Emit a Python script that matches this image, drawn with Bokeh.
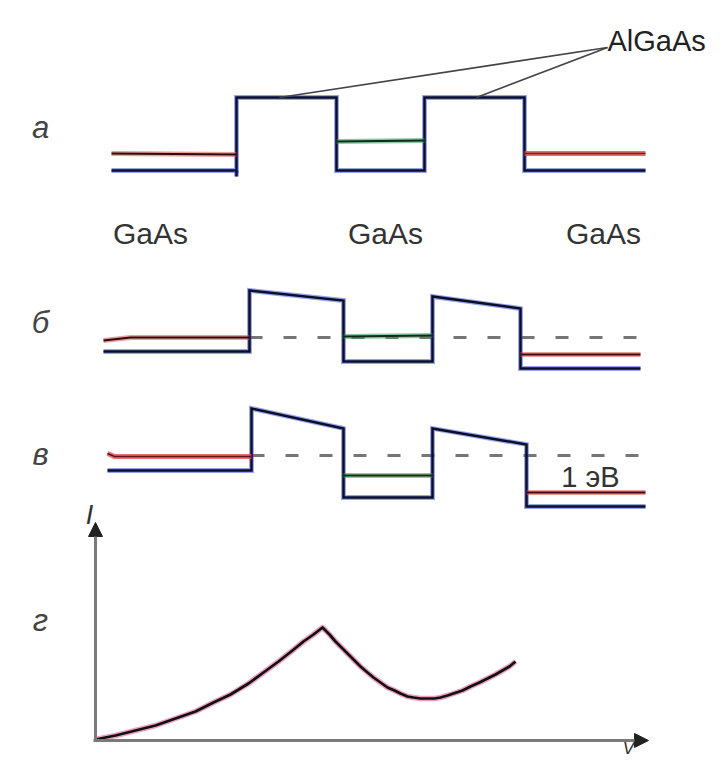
from bokeh.plotting import figure
from bokeh.models import Range1d, Arrow, NormalHead
from bokeh.core.properties import value
from bokeh.embed import file_html
from bokeh.resources import INLINE

# ---------------- data (diagram coordinates) ----------------
# panel а : no bias
a_band_x = [111, 236, 236, 336, 336, 424, 424, 524, 524, 645]
a_band_y = [170, 170, 97, 97, 170, 170, 97, 97, 170, 170]
a_stub_x = [236, 236]
a_stub_y = [170, 176]
a_fermi_l_x = [111, 236]
a_fermi_l_y = [153, 154]
a_fermi_r_x = [524, 645]
a_fermi_r_y = [153, 153]
a_level_x = [336, 424]
a_level_y = [141, 140]

# panel б : resonance
b_band_x = [103, 249, 249, 343, 343, 432, 432, 520, 520, 640]
b_band_y = [351, 351, 290, 300, 361, 361, 296, 308, 368, 368]
b_fermi_l_x = [103, 130, 249]
b_fermi_l_y = [340, 337, 337]
b_fermi_r_x = [520, 640]
b_fermi_r_y = [354, 354]
b_level_x = [343, 432]
b_level_y = [336, 335]
b_dash_x = [249, 642]
b_dash_y = [337, 337]

# panel в : beyond resonance
c_band_x = [107, 251, 251, 343, 343, 432, 432, 526, 526, 645]
c_band_y = [470, 470, 408, 428, 497, 497, 428, 444, 506, 506]
c_fermi_l_x = [107, 114, 251]
c_fermi_l_y = [453, 456, 456]
c_fermi_r_x = [526, 645]
c_fermi_r_y = [492, 492]
c_level_x = [343, 432]
c_level_y = [475, 475]
c_dash_x = [251, 645]
c_dash_y = [455, 455]

# panel г : I-V curve
iv_x = [95, 115, 135, 155, 175, 195, 213, 230, 248, 263, 278, 292, 303, 313, 322,
        329, 335, 341, 347, 354, 360, 367, 373, 380, 387, 394, 400, 407, 413, 420,
        427, 434, 440, 447, 453, 462, 470, 479, 487, 495, 502, 509, 515]
iv_y = [739, 735, 730, 725, 718, 711, 702, 694, 683, 672, 661, 650, 641, 634, 627,
        634, 641, 647, 653, 660, 666, 672, 677, 682, 687, 690, 693, 696, 697, 698,
        698, 698, 697, 695, 693, 690, 686, 682, 678, 674, 670, 666, 661]

panel_labels = ["а", "б", "в", "г"]
panel_label_x = [40, 40, 40, 40]
panel_label_y = [127, 322, 454, 620]

layer_labels = ["GaAs", "GaAs", "GaAs"]
layer_label_x = [150, 385, 603]
layer_label_y = [233, 233, 233]

# ---------------- figure ----------------
p = figure(width=712, height=758, output_backend="svg", toolbar_location=None,
           x_range=Range1d(0, 712), y_range=Range1d(758, 0),
           min_border=0, background_fill_color="white", border_fill_color="white")
p.axis.visible = False
p.grid.visible = False
p.outline_line_color = None

FONT = value("Liberation Sans")

def banded(xs, ys, halo, core="#0b0e28", hw=4.8, cw=2.5, ha=0.55):
    p.line(xs, ys, line_color=halo, line_width=hw, line_alpha=ha, line_join="miter")
    p.line(xs, ys, line_color=core, line_width=cw, line_join="miter")

BLUE = "#3f55d8"
RED = "#e24a4a"
GREEN = "#2f9a55"

# dashed Fermi reference lines
for dx, dy in [(b_dash_x, b_dash_y), (c_dash_x, c_dash_y)]:
    p.line(dx, dy, line_color="#767676", line_width=3, line_dash="13 21")

# panel а
banded(a_band_x, a_band_y, BLUE)
banded(a_stub_x, a_stub_y, BLUE)
banded(a_fermi_l_x, a_fermi_l_y, RED, core="#2a0c0c", cw=2.2)
banded(a_fermi_r_x, a_fermi_r_y, RED, core="#7a1a1a", cw=1.3, ha=0.8)
banded(a_level_x, a_level_y, GREEN, core="#102a18", cw=2.0)

# panel б
banded(b_band_x, b_band_y, BLUE)
banded(b_fermi_l_x, b_fermi_l_y, RED, core="#2a0c0c", cw=1.8)
banded(b_fermi_r_x, b_fermi_r_y, RED, core="#3a0c0c", cw=2.0)
banded(b_level_x, b_level_y, GREEN, core="#102a18", cw=2.0)

# panel в
banded(c_band_x, c_band_y, BLUE)
banded(c_fermi_l_x, c_fermi_l_y, RED, core="#5a1414", cw=1.5, ha=0.8)
banded(c_fermi_r_x, c_fermi_r_y, RED, core="#3a0c0c", cw=2.0)
banded(c_level_x, c_level_y, GREEN, core="#102a18", cw=2.0)

# leader lines to AlGaAs
p.line([607, 279], [47, 97], line_color="#444444", line_width=1.6)
p.line([607, 476], [47, 97], line_color="#444444", line_width=1.6)

# panel г axes
ax_src = dict(line_color="#7a7a7a", line_width=3)
p.add_layout(Arrow(end=NormalHead(size=14, fill_color="#222222", line_color="#222222"),
                   x_start=95, y_start=740, x_end=95, y_end=522, **ax_src))
p.add_layout(Arrow(end=NormalHead(size=14, fill_color="#222222", line_color="#222222"),
                   x_start=93, y_start=740, x_end=648, y_end=740, **ax_src))

# I-V curve
p.line(iv_x, iv_y, line_color="#e0508a", line_width=5.5, line_alpha=0.55, line_join="round")
p.line(iv_x, iv_y, line_color="#111111", line_width=2.7, line_join="round")

# texts
p.text(x=[607], y=[40], text=["AlGaAs"], text_font=FONT, text_font_size="29px",
       text_color="#222222", text_align="left", text_baseline="middle")
p.text(x=layer_label_x, y=layer_label_y, text=layer_labels, text_font=FONT,
       text_font_size="30px", text_color="#333333", text_align="center",
       text_baseline="middle")
p.text(x=[590], y=[476], text=["1 эВ"], text_font=FONT, text_font_size="29px",
       text_color="#333333", text_align="center", text_baseline="middle")
p.text(x=panel_label_x, y=panel_label_y, text=panel_labels, text_font=FONT,
       text_font_size="31px", text_font_style="italic", text_color="#444444",
       text_align="center", text_baseline="middle")
p.text(x=[89], y=[514], text=["I"], text_font=FONT, text_font_size="27px",
       text_font_style="italic", text_color="#333333", text_align="center",
       text_baseline="middle")
p.text(x=[628], y=[757], text=["V"], text_font=FONT, text_font_size="18px",
       text_font_style="italic", text_color="#333333", text_align="center",
       text_baseline="bottom")

open("out.html", "w").write(file_html(p, INLINE))
